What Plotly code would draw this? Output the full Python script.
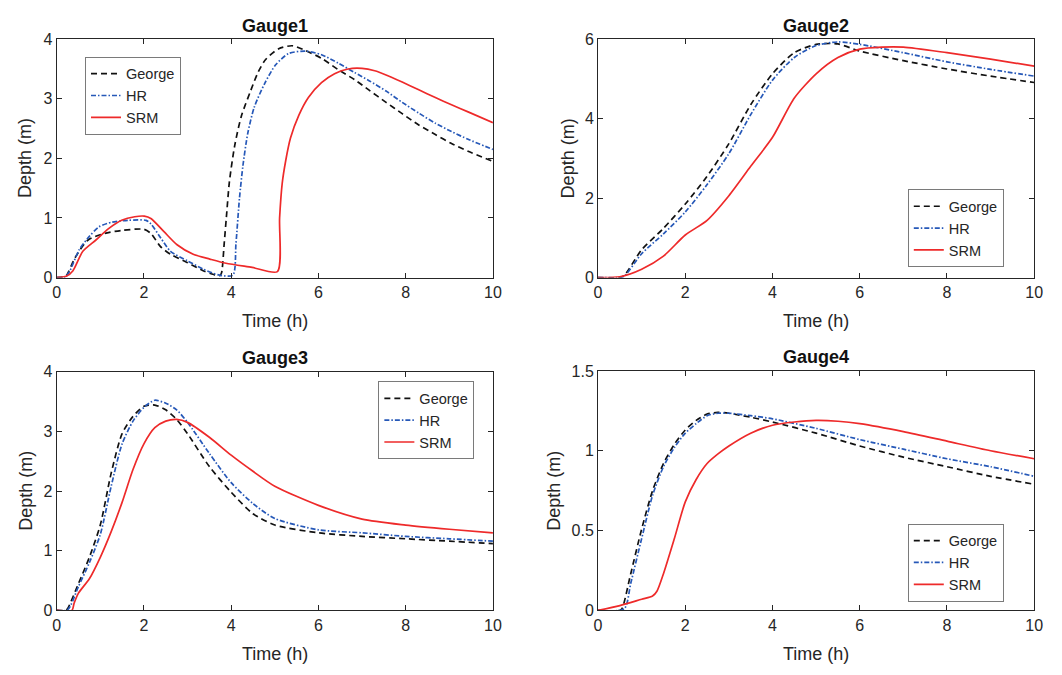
import plotly.graph_objects as go

# ---------------- data: water depth (m) at four gauges vs time (h) ----------------
g1_george_t = [0, 0.15, 0.22, 0.42, 0.72, 1.1, 1.48, 2.0, 2.16, 2.38, 2.61, 3.0, 3.37, 3.6, 3.74, 3.78, 3.84, 3.89, 3.96, 4.08, 4.23, 4.45, 4.62, 4.79, 5.09, 5.4, 5.7, 6.07, 6.45, 6.83, 7.17, 7.55, 7.92, 8.3, 8.68, 9.05, 9.43, 10.0]
g1_george_d = [0, 0.01, 0.03, 0.33, 0.63, 0.74, 0.79, 0.81, 0.74, 0.52, 0.39, 0.25, 0.11, 0.05, 0.03, 0.08, 0.57, 1.01, 1.61, 2.21, 2.7, 3.14, 3.45, 3.66, 3.84, 3.89, 3.81, 3.68, 3.49, 3.32, 3.14, 2.94, 2.75, 2.56, 2.4, 2.25, 2.12, 1.95]

g1_hr_t = [0, 0.2, 0.3, 0.52, 0.75, 0.97, 1.27, 1.64, 2.05, 2.16, 2.39, 2.61, 3.0, 3.36, 3.73, 4.04, 4.11, 4.19, 4.27, 4.38, 4.53, 4.77, 5.02, 5.32, 5.7, 6.07, 6.45, 6.83, 7.17, 7.55, 7.92, 8.3, 8.68, 9.05, 9.43, 10.0]
g1_hr_d = [0, 0.01, 0.11, 0.47, 0.69, 0.85, 0.93, 0.96, 0.96, 0.9, 0.66, 0.44, 0.28, 0.14, 0.04, 0.04, 0.57, 1.33, 1.88, 2.42, 2.86, 3.26, 3.57, 3.76, 3.8, 3.74, 3.6, 3.44, 3.3, 3.13, 2.94, 2.76, 2.59, 2.45, 2.32, 2.15]

g1_srm_t = [0, 0.22, 0.37, 0.6, 0.9, 1.19, 1.49, 1.79, 2.01, 2.16, 2.46, 2.76, 3.13, 3.51, 3.88, 4.48, 5.06, 5.11, 5.17, 5.25, 5.36, 5.55, 5.77, 6.07, 6.37, 6.68, 7.0, 7.29, 7.55, 7.92, 8.3, 8.68, 9.05, 9.43, 10.0]
g1_srm_d = [0, 0.02, 0.11, 0.44, 0.63, 0.82, 0.96, 1.02, 1.03, 0.99, 0.77, 0.55, 0.39, 0.31, 0.24, 0.17, 0.1, 1.0, 1.58, 1.96, 2.34, 2.72, 3.02, 3.27, 3.42, 3.5, 3.51, 3.47, 3.4, 3.28, 3.15, 3.02, 2.9, 2.78, 2.6]

g2_george_t = [0, 0.5, 0.6, 1.0, 1.5, 2.0, 2.5, 3.0, 3.5, 4.0, 4.5, 5.0, 5.5, 6.0, 7.0, 8.0, 9.0, 10.0]
g2_george_d = [0, 0, 0.05, 0.7, 1.24, 1.85, 2.55, 3.37, 4.35, 5.13, 5.66, 5.87, 5.88, 5.7, 5.46, 5.25, 5.07, 4.91]

g2_hr_t = [0, 0.5, 0.6, 1.0, 1.5, 2.0, 2.5, 3.0, 3.5, 4.0, 4.5, 5.0, 5.5, 6.0, 7.0, 8.0, 9.0, 10.0]
g2_hr_d = [0, 0, 0.03, 0.6, 1.1, 1.65, 2.34, 3.12, 4.1, 4.97, 5.54, 5.84, 5.93, 5.87, 5.66, 5.43, 5.24, 5.07]

g2_srm_t = [0, 0.5, 1.0, 1.5, 2.0, 2.5, 3.0, 3.5, 4.0, 4.5, 5.0, 5.5, 6.0, 6.5, 7.0, 8.0, 9.0, 10.0]
g2_srm_d = [0, 0.02, 0.21, 0.54, 1.07, 1.44, 2.06, 2.8, 3.53, 4.52, 5.13, 5.54, 5.75, 5.8, 5.8, 5.66, 5.5, 5.32]

g3_george_t = [0, 0.2, 0.25, 0.5, 0.75, 1.0, 1.25, 1.5, 1.75, 2.0, 2.25, 2.5, 2.75, 3.0, 3.5, 4.0, 4.5, 5.0, 6.0, 7.0, 8.0, 9.0, 10.0]
g3_george_d = [0, 0, 0.03, 0.45, 0.89, 1.43, 2.3, 2.96, 3.25, 3.42, 3.44, 3.36, 3.2, 2.96, 2.41, 1.98, 1.62, 1.43, 1.3, 1.24, 1.2, 1.16, 1.12]

g3_hr_t = [0, 0.25, 0.5, 0.75, 1.0, 1.25, 1.5, 1.75, 2.0, 2.25, 2.5, 2.75, 3.0, 3.5, 4.0, 4.5, 5.0, 6.0, 7.0, 8.0, 9.0, 10.0]
g3_hr_d = [0, 0.01, 0.4, 0.8, 1.27, 2.08, 2.79, 3.17, 3.4, 3.52, 3.47, 3.36, 3.15, 2.63, 2.14, 1.79, 1.54, 1.35, 1.3, 1.24, 1.2, 1.16]

g3_srm_t = [0, 0.35, 0.4, 0.5, 0.75, 1.0, 1.25, 1.5, 1.75, 2.0, 2.25, 2.5, 2.75, 3.0, 3.5, 4.0, 4.5, 5.0, 6.0, 7.0, 8.0, 9.0, 10.0]
g3_srm_d = [0, 0, 0.12, 0.29, 0.53, 0.89, 1.32, 1.81, 2.36, 2.79, 3.06, 3.17, 3.2, 3.15, 2.9, 2.6, 2.33, 2.08, 1.76, 1.53, 1.43, 1.36, 1.3]

g4_george_t = [0, 0.5, 0.55, 0.75, 1.0, 1.25, 1.5, 1.75, 2.0, 2.25, 2.5, 2.75, 3.0, 3.5, 4.0, 5.0, 6.0, 7.0, 8.0, 9.0, 10.0]
g4_george_d = [0, 0, 0.01, 0.23, 0.51, 0.75, 0.92, 1.04, 1.13, 1.19, 1.23, 1.24, 1.235, 1.21, 1.18, 1.11, 1.03, 0.96, 0.9, 0.84, 0.79]

g4_hr_t = [0, 0.6, 0.75, 1.0, 1.25, 1.5, 1.75, 2.0, 2.25, 2.5, 2.75, 3.0, 3.5, 4.0, 5.0, 6.0, 7.0, 8.0, 9.0, 10.0]
g4_hr_d = [0, 0.01, 0.17, 0.45, 0.72, 0.9, 1.02, 1.11, 1.17, 1.22, 1.235, 1.235, 1.22, 1.2, 1.14, 1.07, 1.01, 0.95, 0.9, 0.84]

g4_srm_t = [0, 0.5, 1.0, 1.25, 1.35, 1.5, 1.75, 2.0, 2.25, 2.5, 2.75, 3.0, 3.5, 4.0, 4.5, 5.0, 5.5, 6.0, 7.0, 8.0, 9.0, 10.0]
g4_srm_d = [0, 0.03, 0.07, 0.09, 0.12, 0.23, 0.45, 0.68, 0.82, 0.92, 0.98, 1.03, 1.11, 1.16, 1.18, 1.19, 1.185, 1.17, 1.12, 1.06, 1.0, 0.95]

gauge_titles = ["Gauge1", "Gauge2", "Gauge3", "Gauge4"]
series_names = ["George", "HR", "SRM"]
y_ranges = [[0, 4], [0, 6], [0, 4], [0, 1.5]]
y_ticks = [[0, 1, 2, 3, 4], [0, 2, 4, 6], [0, 1, 2, 3, 4], [0, 0.5, 1, 1.5]]
x_ticks = [0, 2, 4, 6, 8, 10]

gauges = [
    [(g1_george_t, g1_george_d), (g1_hr_t, g1_hr_d), (g1_srm_t, g1_srm_d)],
    [(g2_george_t, g2_george_d), (g2_hr_t, g2_hr_d), (g2_srm_t, g2_srm_d)],
    [(g3_george_t, g3_george_d), (g3_hr_t, g3_hr_d), (g3_srm_t, g3_srm_d)],
    [(g4_george_t, g4_george_d), (g4_hr_t, g4_hr_d), (g4_srm_t, g4_srm_d)],
]

# ---------------- styling ----------------
W, H = 1062, 675
FONT = "Liberation Sans, Arial, Helvetica, sans-serif"
AX = "#262626"
line_styles = [
    dict(color="#111111", width=1.7, dash="6px,4px"),
    dict(color="#2658b8", width=1.7, dash="5px,2px,1.5px,2px"),
    dict(color="#ee2a2a", width=1.7, dash="solid"),
]

# panel boxes in pixel coordinates: (left, right, top, bottom)
panels = [(53.3, 495, 32, 276.5), (601.4, 1043, 32, 276.5), (53.3, 495, 373, 618), (601.4, 1043, 372.3, 618)]
# legend top-left corners (px)
legend_pos = [(82, 50), (915, 186), (379, 383), (915, 529)]
# horizontal centre of the "Depth (m)" label (px)
ylab_x = [22, 571, 22, 556]


def px_x(v):
    return v / W


def px_y(v):
    return 1 - v / H


fig = go.Figure()
layout = dict(
    width=W, height=H,
    margin=dict(l=0, r=0, t=0, b=0),
    paper_bgcolor="white", plot_bgcolor="white",
    font=dict(family=FONT, size=16, color=AX),
    annotations=[],
)

for i, (series, title) in enumerate(zip(gauges, gauge_titles)):
    k = "" if i == 0 else str(i + 1)
    leg = "legend" + k
    for (t, d), name, st in zip(series, series_names, line_styles):
        fig.add_trace(go.Scatter(
            x=t, y=d, name=name, mode="lines",
            line=dict(shape="spline", smoothing=0.7, **st),
            xaxis="x" + k, yaxis="y" + k, legend=leg,
        ))
    l, r, tp, b = panels[i]
    layout["xaxis" + k] = dict(
        domain=[px_x(l), px_x(r)], anchor="y" + k, range=[0, 10],
        tickvals=x_ticks, ticks="inside", ticklen=5, tickcolor=AX,
        showline=True, linecolor=AX, linewidth=1, mirror="ticks",
        showgrid=False, zeroline=False, tickfont=dict(size=16, color=AX),
    )
    layout["yaxis" + k] = dict(
        domain=[px_y(b), px_y(tp)], anchor="x" + k, range=y_ranges[i],
        tickvals=y_ticks[i], ticks="inside", ticklen=5, tickcolor=AX,
        showline=True, linecolor=AX, linewidth=1, mirror="ticks",
        showgrid=False, zeroline=False, tickfont=dict(size=16, color=AX),
    )
    lx, ly = legend_pos[i]
    layout[leg] = dict(
        x=px_x(lx), y=px_y(ly), xanchor="left", yanchor="top",
        bgcolor="white", bordercolor="#7a7a7a", borderwidth=1,
        font=dict(family=FONT, size=14.5, color=AX),
        tracegroupgap=0, itemwidth=30,
    )
    # panel title
    layout["annotations"].append(dict(
        text="<b>" + title + "</b>", x=px_x((l + r) / 2), y=px_y(tp - 14),
        xref="paper", yref="paper", showarrow=False, xanchor="center", yanchor="middle",
        font=dict(family=FONT, size=18, color="#111111"),
    ))
    # axis titles
    layout["annotations"].append(dict(
        text="Time (h)", x=px_x((l + r) / 2), y=px_y(b + 45),
        xref="paper", yref="paper", showarrow=False, xanchor="center", yanchor="middle",
        font=dict(family=FONT, size=18, color=AX),
    ))
    layout["annotations"].append(dict(
        text="Depth (m)", x=px_x(ylab_x[i]), y=px_y((tp + b) / 2), textangle=-90,
        xref="paper", yref="paper", showarrow=False, xanchor="center", yanchor="middle",
        font=dict(family=FONT, size=18, color=AX),
    ))

fig.update_layout(**layout)
fig.write_html("out.html")
